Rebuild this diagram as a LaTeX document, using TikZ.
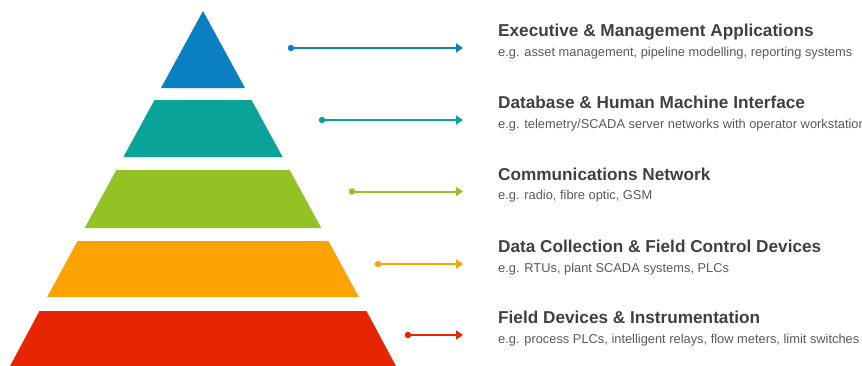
\documentclass[tikz,border=0pt]{standalone}
\usepackage{fontspec}
\setmainfont{Liberation Sans}
\usetikzlibrary{arrows.meta}
\definecolor{cblue}{HTML}{0A7FC2}
\definecolor{cteal}{HTML}{0AA399}
\definecolor{cgreen}{HTML}{92C223}
\definecolor{corange}{HTML}{FBA300}
\definecolor{cred}{HTML}{E52600}
\definecolor{ctitle}{HTML}{404040}
\definecolor{csub}{HTML}{595959}
\tikzset{
  ttl/.style={anchor=base west, inner sep=0pt, text=ctitle, font=\fontsize{17.2}{19}\selectfont\bfseries},
  subt/.style={anchor=base west, inner sep=0pt, text=csub, font=\fontsize{12.85}{14}\selectfont},
  dotn/.style={circle, fill=#1, inner sep=0pt, minimum size=6.5pt},
  conn/.style={draw=#1, line width=2pt, -{Triangle[length=7pt,width=9pt]}, shorten <=-1pt},
}
\begin{document}
\begin{tikzpicture}[x=1pt,y=-1pt]
\useasboundingbox (0,0) rectangle (862,365);
\clip (0,0) rectangle (862,365);
% pyramid bands
\fill[cblue] (203,11) -- (245,88) -- (161,88) -- cycle;
\fill[cteal] (154.5,100) -- (251.5,100) -- (282.6,157) -- (123.4,157) -- cycle;
\fill[cgreen] (116.3,170) -- (289.7,170) -- (321.3,228) -- (84.7,228) -- cycle;
\fill[corange] (77.6,241) -- (328.4,241) -- (358.9,297) -- (47.1,297) -- cycle;
\fill[cred] (39.5,311) -- (366.5,311) -- (396.5,367) -- (9.5,367) -- cycle;
% connectors
\node[dotn=cblue] (d1) at (291,48) {};
\coordinate (e1) at (463,48);
\draw[conn=cblue] (d1.center) -- (e1);
\node[dotn=cteal] (d2) at (322,120) {};
\coordinate (e2) at (463,120);
\draw[conn=cteal] (d2.center) -- (e2);
\node[dotn=cgreen] (d3) at (352,191.5) {};
\coordinate (e3) at (463,191.5);
\draw[conn=cgreen] (d3.center) -- (e3);
\node[dotn=corange] (d4) at (378,264) {};
\coordinate (e4) at (463,264);
\draw[conn=corange] (d4.center) -- (e4);
\node[dotn=cred] (d5) at (408,335) {};
\coordinate (e5) at (463,335);
\draw[conn=cred] (d5.center) -- (e5);
% texts
\node[ttl] (t1) at (498,36.5) {Executive \& Management Applications};
\node[subt] (s1) at (498,56) {e.g. asset management, pipeline modelling, reporting systems};
\node[ttl] (t2) at (498,108.5) {Database \& Human Machine Interface};
\node[subt] (s2) at (498,128) {e.g. telemetry/SCADA server networks with operator workstations};
\node[ttl] (t3) at (498,180) {Communications Network};
\node[subt] (s3) at (498,199.5) {e.g. radio, fibre optic, GSM};
\node[ttl] (t4) at (498,252.5) {Data Collection \& Field Control Devices};
\node[subt] (s4) at (498,272) {e.g. RTUs, plant SCADA systems, PLCs};
\node[ttl] (t5) at (498,323.5) {Field Devices \& Instrumentation};
\node[subt] (s5) at (498,343) {e.g. process PLCs, intelligent relays, flow meters, limit switches};
\end{tikzpicture}
\end{document}
